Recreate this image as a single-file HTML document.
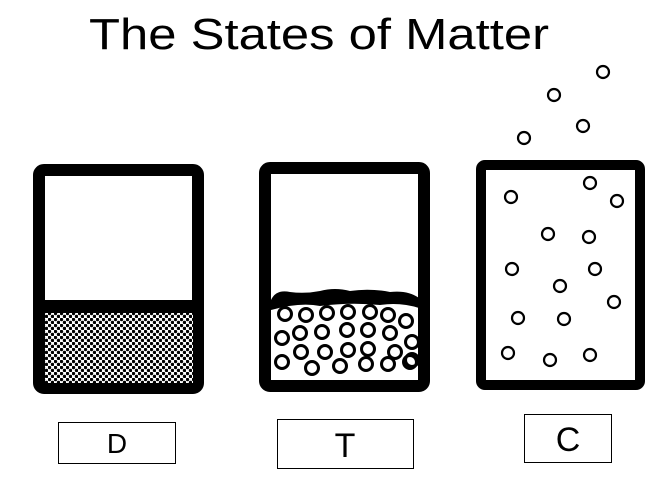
<!DOCTYPE html>
<html><head><meta charset="utf-8"><style>
html,body{margin:0;padding:0;background:#fff;width:664px;height:486px;overflow:hidden}
svg{display:block}
</style></head><body>
<svg width="664" height="486" viewBox="0 0 664 486">
<defs>
<pattern id="hatch" width="6" height="6" patternUnits="userSpaceOnUse">
<rect width="6" height="6" fill="#fff"/>
<circle cx="1.5" cy="1.5" r="1.7" fill="#000"/>
<circle cx="4.5" cy="4.5" r="1.7" fill="#000"/>
</pattern>
</defs>
<text x="89" y="49" textLength="460" lengthAdjust="spacingAndGlyphs" font-family="'Liberation Sans',sans-serif" font-size="44" fill="#000">The States of Matter</text>

<g>
<rect x="39" y="170" width="159" height="218" rx="5" fill="#fff" stroke="#000" stroke-width="12"/>
<rect x="45" y="300" width="148" height="13" fill="#000"/>
<rect x="45" y="313" width="148" height="70" fill="url(#hatch)"/>
</g>

<g>
<rect x="265" y="168" width="159" height="218" rx="5" fill="#fff" stroke="#000" stroke-width="12"/>
<path d="M271 300 Q276 289 290 292 Q305 294 320 291 Q335 287 350 291 Q370 288 390 292 Q408 290 419 298 L419 308 Q400 302 380 305 Q350 302 320 306 Q300 302 271 310 Z" fill="#000"/>
<g fill="none" stroke="#000" stroke-width="3" id="liq"></g>
</g>

<g>
<rect x="481" y="165" width="159" height="220" rx="4" fill="#fff" stroke="#000" stroke-width="10"/>
<g fill="none" stroke="#000" stroke-width="2.2" id="gas"></g>
</g>

<g>
<rect x="58.5" y="422.5" width="117" height="41" fill="#fff" stroke="#000"/>
<text x="117" y="453" text-anchor="middle" font-family="'Liberation Sans',sans-serif" font-size="28">D</text>
</g>
<g>
<rect x="277.5" y="419.5" width="136" height="49" fill="#fff" stroke="#000"/>
<text x="345" y="457" text-anchor="middle" font-family="'Liberation Sans',sans-serif" font-size="34">T</text>
</g>
<g>
<rect x="524.5" y="414.5" width="87" height="48" fill="#fff" stroke="#000"/>
<text x="568" y="451" text-anchor="middle" font-family="'Liberation Sans',sans-serif" font-size="34">C</text>
</g>
</svg>
<script>
const liquidParticles=[[285,314],[306,315],[327,313],[348,312],[370,312],[388,315],[406,321],[282,338],[300,333],[322,332],[347,330],[368,330],[390,333],[412,342],[301,352],[325,352],[348,350],[368,349],[395,352],[412,360],[282,362],[312,368],[340,366],[366,364],[388,364],[410,362]];
const gasParticles=[[603,72],[554,95],[583,126],[524,138],[511,197],[590,183],[617,201],[548,234],[589,237],[512,269],[595,269],[560,286],[614,302],[518,318],[564,319],[508,353],[550,360],[590,355]];
const NS='http://www.w3.org/2000/svg';
function draw(list,gid,r,name){
  const g=document.getElementById(gid);
  list.forEach(p=>{
    const c=document.createElementNS(NS,'circle');
    c.setAttribute('cx',p[0]);c.setAttribute('cy',p[1]);c.setAttribute('r',r);
    
    
    g.appendChild(c);
  });
}
draw(liquidParticles,'liq',6.5,'liquid-particle');
draw(gasParticles,'gas',6,'gas-particle');
</script>
</body></html>
